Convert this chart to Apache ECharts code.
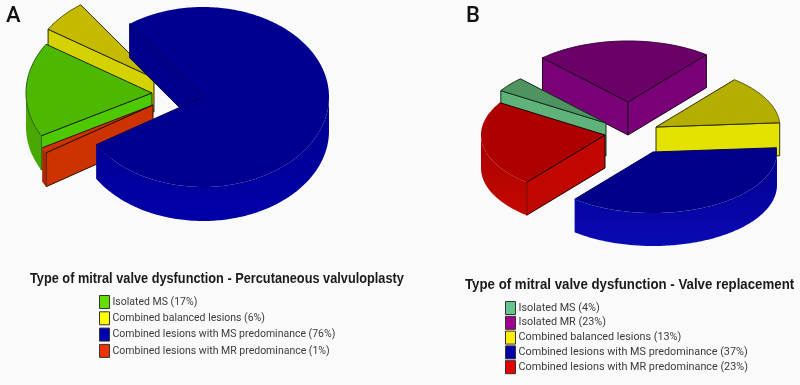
<!DOCTYPE html>
<html><head><meta charset="utf-8">
<style>html,body{margin:0;padding:0;background:#fbfafa}#c{width:800px;height:385px}</style>
<script src="https://cdn.jsdelivr.net/npm/echarts@6/dist/echarts.min.js"></script>
</head><body><div id="c"></div>
<script>
// ---- data ----
const categoriesA = ['Isolated MS','Combined balanced lesions','Combined lesions with MS predominance','Combined lesions with MR predominance'];
const valuesA = [17,6,76,1];
const categoriesB = ['Isolated MS','Isolated MR','Combined balanced lesions','Combined lesions with MS predominance','Combined lesions with MR predominance'];
const valuesB = [4,23,13,37,23];
const titleA = 'Type of mitral valve dysfunction - Percutaneous valvuloplasty';
const titleB = 'Type of mitral valve dysfunction - Valve replacement';

// ---- layout & style (3D projection) ----
const grad = (a,b) => new echarts.graphic.LinearGradient(0,0,0,1,[{offset:0,color:a},{offset:1,color:b}]);
const pieA = {rx:126, ry:90, depth:34, start:208.4,
  apex:[[152,93],[154,78],[203,97],[153,105]], order:[1,0,3,2],
  top:['#4cb800','#c4bb00','#000090','#cc3300'],
  face:['#4dc900','#d4d200','#00008c','#cc3300'],
  rim:['#48a800','#b5ad00',grad('#00008e','#0000a8'),'#a82a00'],
  line:['#1a2a10','#2a2a10','#000060','#301000'],
  arcLine:['#2a5a10','#555500',null,null],
  swatch:['#66dd00','#ffff00','#0000b0','#ee3300']};
const pieB = {rx:124, ry:61, depth:33, start:148,
  apex:[[606,123],[628,102],[656,127],[653,152],[605,135]], order:[1,0,2,4,3],
  top:['#4f9460','#6a0068','#b3ae00','#00008a','#ae0000'],
  face:['#5fb27a','#7a0078','#e4e200','#00009c','#c00800'],
  rim:['#5fb27a','#7a0078','#c8c400',grad('#00008e','#0a0ab4'),grad('#a80000','#c40800')],
  line:['#10301a','#200020','#303000','#000060','#200000'],
  arcLine:['#10301a','#400040','#555500',null,null],
  swatch:['#66c490','#a00090','#ffee00','#0000a8','#e60000']};

function sliceRenderer(pie, i){
  return function(params, api){
    const from = pie.start - api.value(0)*3.6, to = from - api.value(1)*3.6;
    const [ax, ay] = pie.apex[i];
    const P = t => [ax + pie.rx*Math.cos(t*Math.PI/180), ay - pie.ry*Math.sin(t*Math.PI/180)];
    const drop = p => [p[0], p[1] + pie.depth];
    const arc = [], n = Math.max(2, Math.ceil(from - to));
    for (let k=0;k<=n;k++) arc.push(from - (from-to)*k/n);
    const children = [];
    const poly = (points, fill, stroke) => children.push({type:'polygon', shape:{points},
      style:{fill, stroke: stroke||null, lineWidth: stroke?1:0, lineJoin:'round'}});
    const line = (points, stroke) => children.push({type:'polyline', shape:{points},
      style:{fill:null, stroke, lineWidth:1, lineJoin:'round'}});
    const A = [ax, ay];
    const cut = t => { const R = P(t); poly([A,R,drop(R),drop(A)], pie.face[i], pie.line[i]); };
    if (Math.cos(from*Math.PI/180) < 0) cut(from);
    if (Math.cos(to*Math.PI/180) > 0) cut(to);
    const low = arc.filter(t => Math.sin(t*Math.PI/180) <= 0.001);
    if (low.length > 1) {
      const a = low.map(P);
      poly(a.concat(a.map(drop).reverse()), pie.rim[i]);
    }
    const pts = arc.map(P);
    poly([A].concat(pts), pie.top[i]);
    line([pts[0], A, pts[pts.length-1]], pie.line[i]);
    if (pie.arcLine[i]) line(pts, pie.arcLine[i]);
    return {type:'group', children};
  };
}
function seriesFor(pie, names, values){
  const cum = values.map((_,i)=>values.slice(0,i).reduce((a,b)=>a+b,0));
  return pie.order.map((i,z)=>({
    type:'custom', name:`${names[i]} (${values[i]}%)`, coordinateSystem:'none',
    z:2+z, silent:true, animation:false,
    itemStyle:{color:pie.swatch[i]},
    data:[{value:[cum[i], values[i]]}], renderItem:sliceRenderer(pie,i)
  }));
}
function legendFor(pie, names, values, left, top, gap, size){
  return {orient:'vertical', left, top, height:names.length*18, padding:0, itemWidth:10, itemHeight:13, itemGap:gap, selectedMode:false,
    textStyle:{fontFamily:'Roboto', fontSize:size, color:'#3a3a3a', padding:[0,0,0,-2]},
    data:names.map((n,i)=>({name:`${n} (${values[i]}%)`, icon:'rect',
      itemStyle:{color:pie.swatch[i], borderColor:'#333', borderWidth:1}}))};
}
const headFont = {fontFamily:'Roboto', fontSize:22, fontWeight:500, color:'#111'};
const titleFont = {font:'bold 15px "Liberation Sans"', fill:'#1a1a1a', textVerticalAlign:'middle'};
const chart = echarts.init(document.getElementById('c'), null, {renderer:'canvas'});
chart.setOption({
  backgroundColor:'#fbfafa', animation:false,
  title:[
    {text:'A', left:1, top:0, textStyle:headFont},
    {text:'B', left:461, top:0, textStyle:headFont}
  ],
  graphic:[
    {type:'text', x:30, y:279, scaleX:0.85, style:Object.assign({text:titleA}, titleFont)},
    {type:'text', x:465, y:285, scaleX:0.884, style:Object.assign({text:titleB}, titleFont)}
  ],
  legend:[
    legendFor(pieA,categoriesA,valuesA,99,295,2.3,10.5),
    legendFor(pieB,categoriesB,valuesB,505,301,0.8,10.8)
  ],
  series:[...seriesFor(pieA,categoriesA,valuesA),...seriesFor(pieB,categoriesB,valuesB)]
});
</script></body></html>
